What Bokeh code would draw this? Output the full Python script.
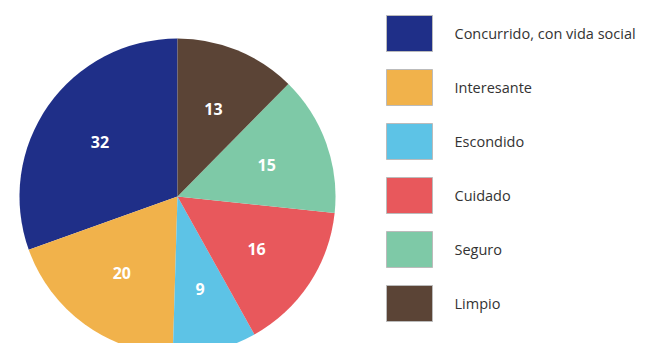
import math
from bokeh.plotting import figure
from bokeh.models import Range1d, ColumnDataSource
from bokeh.core.properties import value
from bokeh.embed import file_html
from bokeh.resources import INLINE

categories = ["Concurrido, con vida social", "Interesante", "Escondido", "Cuidado", "Seguro", "Limpio"]
values = [32, 20, 9, 16, 15, 13]
colors = ["#1f2f88", "#f1b24b", "#5dc3e6", "#e8585c", "#7ec9a7", "#5b4436"]

W, H = 640, 343
p = figure(width=W, height=H, output_backend="svg", toolbar_location=None,
           x_range=Range1d(0, 640), y_range=Range1d(8, 351),
           min_border=0, outline_line_color=None)
p.axis.visible = False
p.grid.visible = False
p.background_fill_color = "white"

cx, cy, r = 177, 351 - 196, 158
total = sum(values)
starts, ends, lx, ly = [], [], [], []
a = math.pi / 2
for v in values:
    span = 2 * math.pi * v / total
    starts.append(a)
    ends.append(a + span)
    mid = a + span / 2
    lx.append(cx + 0.6 * r * math.cos(mid))
    ly.append(cy + 0.6 * r * math.sin(mid))
    a += span

src = ColumnDataSource(dict(start=starts, end=ends, color=colors,
                            lx=lx, ly=ly, txt=[str(v) for v in values]))
p.wedge(x=cx, y=cy, radius=r, start_angle="start", end_angle="end",
        fill_color="color", line_color=None, source=src)
p.text(x="lx", y="ly", text="txt", source=src, text_color="white",
       text_font=value("Open Sans"), text_font_style="bold", text_font_size="16px",
       text_align="center", text_baseline="middle")

# legend
n = len(categories)
sq_x = [409] * n
sq_y = [351 - (33 + 54 * i) for i in range(n)]
tx = [454] * n
lsrc = ColumnDataSource(dict(x=sq_x, y=sq_y, tx=tx, color=colors, label=categories))
p.rect(x="x", y="y", width=46, height=36, fill_color="color",
       line_color="#bbbbbb", line_width=1, source=lsrc)
p.text(x="tx", y="y", text="label", source=lsrc, text_color="#333333",
       text_font=value("Open Sans"), text_font_size="14.5px",
       text_align="left", text_baseline="middle")

open("out.html", "w").write(file_html(p, INLINE))
